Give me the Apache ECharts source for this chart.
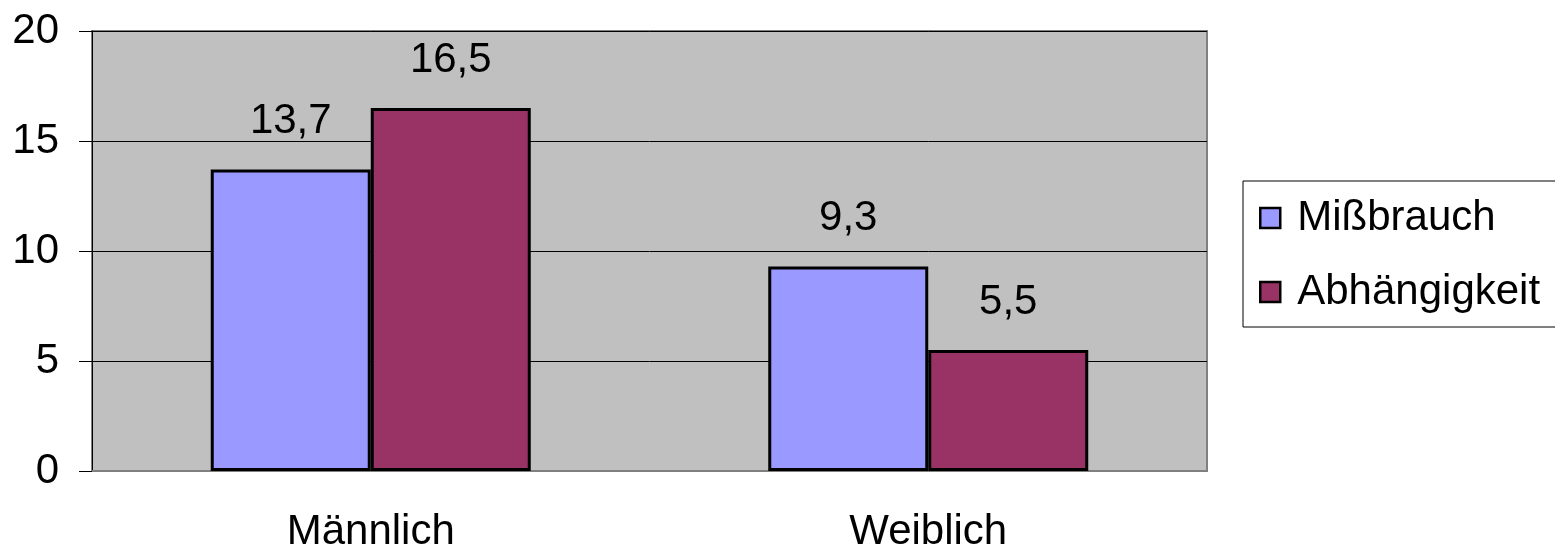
<!DOCTYPE html>
<html>
<head>
<meta charset="utf-8">
<script src="https://cdn.jsdelivr.net/npm/echarts@6/dist/echarts.min.js"></script>
<style>
html,body{margin:0;padding:0;background:#fff;}
#chart{width:1555px;height:554px;}
</style>
</head>
<body>
<div id="chart"></div>
<script>
var categories = ['Männlich', 'Weiblich'];
var missbrauch = [13.7, 9.3];
var abhaengigkeit = [16.5, 5.5];
var seriesNames = ['Mißbrauch', 'Abhängigkeit'];

function fmt(p) {
    return String(p.value).replace('.', ',');
}

var myChart = echarts.init(document.getElementById('chart'));
var fontFam = 'Liberation Sans, Arial, sans-serif';

option = {
    animation: false,
    textStyle: {fontFamily: fontFam},
    grid: {
        left: 92, right: 348, top: 31, bottom: 83,
        show: true,
        backgroundColor: '#C0C0C0',
        borderColor: '#808080',
        borderWidth: 2
    },
    legend: {
        orient: 'vertical',
        left: 1243, top: 181,
        padding: [16, 40, 14, 16],
        itemWidth: 20, itemHeight: 20,
        itemGap: 32,
        icon: 'rect',
        itemStyle: {borderColor: '#000', borderWidth: 2.5},
        borderColor: '#000',
        borderWidth: 1,
        backgroundColor: '#fff',
        textStyle: {fontSize: 42, color: '#000', fontFamily: fontFam, padding: [0, 0, 0, 12]},
        data: seriesNames
    },
    xAxis: {
        type: 'category',
        data: categories,
        axisLine: {lineStyle: {color: '#808080', width: 2}},
        axisTick: {length: 16, lineStyle: {color: '#000'}},
        axisLabel: {fontSize: 42, color: '#000', margin: 40, fontFamily: fontFam}
    },
    yAxis: {
        type: 'value',
        min: 0, max: 20, interval: 5,
        axisLine: {show: true, lineStyle: {color: '#000'}},
        axisTick: {show: true, length: 13, lineStyle: {color: '#000'}},
        axisLabel: {fontSize: 42, color: '#000', margin: 33, fontFamily: fontFam},
        splitLine: {lineStyle: {color: '#000', width: 1}}
    },
    series: [
        {
            name: seriesNames[0],
            type: 'bar',
            data: missbrauch,
            barGap: '0%',
            barCategoryGap: '42.6%',
            itemStyle: {color: '#9999FF', borderColor: '#000', borderWidth: 3},
            label: {show: true, position: 'top', distance: 27, fontSize: 42, color: '#000', formatter: fmt, fontFamily: fontFam}
        },
        {
            name: seriesNames[1],
            type: 'bar',
            data: abhaengigkeit,
            itemStyle: {color: '#993366', borderColor: '#000', borderWidth: 3},
            label: {show: true, position: 'top', distance: 27, fontSize: 42, color: '#000', formatter: fmt, fontFamily: fontFam}
        }
    ]
};

myChart.setOption(option);
</script>
</body>
</html>
